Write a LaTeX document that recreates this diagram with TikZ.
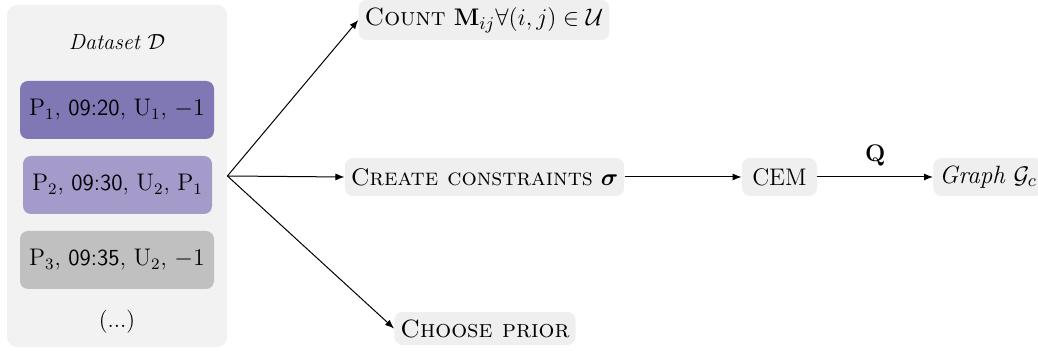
\documentclass[tikz,border=0pt]{standalone}
\usepackage{amsmath,amssymb,tikz}
\usetikzlibrary{arrows.meta,positioning}
\definecolor{DataPurple}{HTML}{8077B5}
\definecolor{DataLilac}{HTML}{A59BCB}
\definecolor{DataGrey}{HTML}{C0C0C0}
\definecolor{PanelGrey}{HTML}{F2F2F2}
\definecolor{StageGrey}{HTML}{EFEFEF}

\begin{document}
\begin{tikzpicture}[x=1pt,y=1pt,font=\fontsize{11.5}{14}\selectfont,>=Latex]
\tikzset{
  panel/.style={fill=PanelGrey,rounded corners=5pt,minimum width=110pt,minimum height=171pt},
  record/.style={rounded corners=4pt,minimum width=97pt,minimum height=29pt,align=center},
  stage/.style={fill=StageGrey,rounded corners=4pt,minimum height=19pt,inner xsep=3pt,font=\fontsize{12}{14}\selectfont},
  link/.style={line width=0.5pt,-{Latex[length=4.5pt,width=3.5pt]}}
}
\useasboundingbox (0,0) rectangle (519,175.5);
\node[panel] (data) at (58.5,87.5) {};
\node[font=\fontsize{11}{13}\selectfont\itshape] (title) at (58.5,154.5) {Dataset $\mathcal{D}$};
\node[record,fill=DataPurple] (r1) at (58.5,120.5) {$\mathrm{P}_1$, \textsf{09:20}, $\mathrm{U}_1$, $-1$};
\node[record,fill=DataLilac,minimum width=94.5pt] (r2) at (58.75,83) {$\mathrm{P}_2$, \textsf{09:30}, $\mathrm{U}_2$, $\mathrm{P}_1$};
\node[record,fill=DataGrey] (r3) at (58.5,45.5) {$\mathrm{P}_3$, \textsf{09:35}, $\mathrm{U}_2$, $-1$};
\node (more) at (58.5,14.5) {(...)};

\node[stage,font=\fontsize{12.5}{15}\selectfont,minimum height=20pt] (count) at (242,165.5) {\textsc{Count} $\mathbf{M}_{ij}\forall(i,j)\in\mathcal{U}$};
\node[stage,minimum width=139.5pt] (create) at (242.25,87) {\textsc{Create constraints} $\boldsymbol{\sigma}$};
\node[stage,minimum width=37.5pt] (cem) at (389.75,87) {CEM};
\node[stage,anchor=west,font=\fontsize{12.5}{15}\selectfont] (graph) at (466.5,87) {\textit{Graph} $\mathcal{G}_c$};
\node[stage,minimum width=87pt,minimum height=16.5pt,font=\fontsize{12.5}{15}\selectfont] (prior) at (242.5,11.25) {\textsc{Choose prior}};

\draw[link] (data.east) -- (count.west);
\draw[link] (data.east) -- (create.west);
\draw[link] (data.east) -- (prior.west);
\draw[link] (create) -- (cem);
\draw[link] (cem) -- node[above=2pt,font=\fontsize{12}{14}\selectfont] {$\mathbf{Q}$} (graph);
\end{tikzpicture}
\end{document}
